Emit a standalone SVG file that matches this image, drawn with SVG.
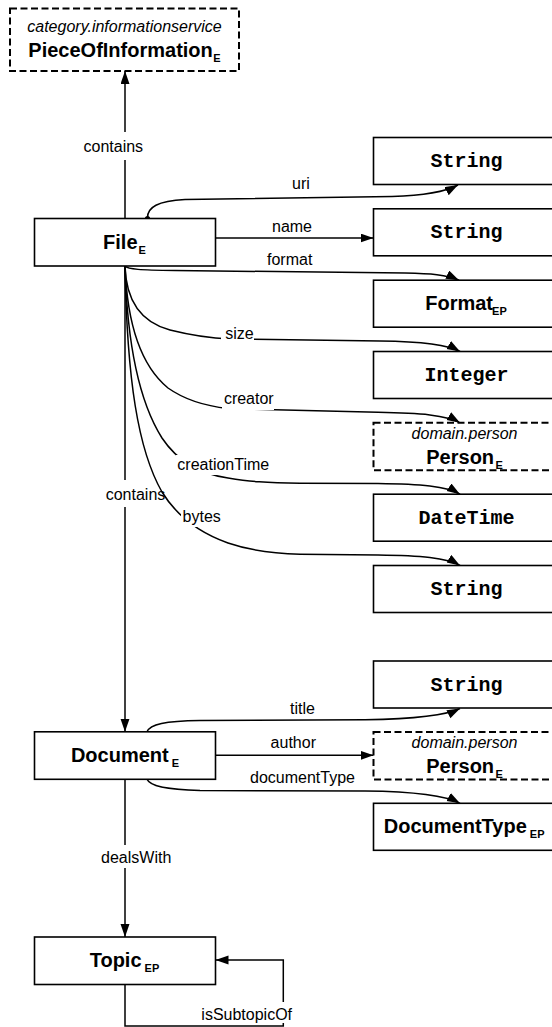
<svg xmlns="http://www.w3.org/2000/svg" width="552" height="1027" viewBox="0 0 552 1027">
<style>
.box{fill:#fff;stroke:#000;stroke-width:1.6}
.dash{fill:#fff;stroke:#000;stroke-width:2;stroke-dasharray:7 3.5}
.e{fill:none;stroke:#000;stroke-width:1.5}
.lb{font-family:"Liberation Sans",Arial,sans-serif;font-size:16px;fill:#000;text-anchor:middle}
.bg{fill:#fff;stroke:none}
.t{font-family:"Liberation Sans",Arial,sans-serif;font-size:20px;font-weight:bold;fill:#000;text-anchor:middle}
.sub{font-size:11px}
.it{font-family:"Liberation Sans",Arial,sans-serif;font-size:16px;font-style:italic;fill:#000;text-anchor:middle}
.m{font-family:"Liberation Mono","Courier New",monospace;font-size:20px;font-weight:bold;fill:#000;text-anchor:middle}
</style>
<defs>
<marker id="arr" markerWidth="14" markerHeight="10" refX="13" refY="4.5" orient="auto" markerUnits="userSpaceOnUse">
<path d="M0,0 L13,4.5 L0,9 z" fill="#000"/>
</marker>
</defs>
<rect width="552" height="1027" fill="#fff"/>
<g id="connectors">
<path class="e" d="M125,218.5 L125,71" marker-end="url(#arr)"/>
<path class="e" d="M147.5,218.5 C147,207 158,201 185,199.5 L392,196.5 C425,195.5 445,192 458,185" marker-end="url(#arr)"/>
<circle cx="147.5" cy="218.5" r="2.6" fill="#000"/>
<path class="e" d="M215.5,238 L373.5,238" marker-end="url(#arr)"/>
<path class="e" d="M125,266 C128,269.5 140,270 175,270.5 L405,273 C430,273.5 447,274.5 459,280.2" marker-end="url(#arr)"/>
<path class="e" d="M125,266 C126,300 140,322 170,330 C190,335 205,338 230,339 L380,341 C420,341.5 447,344 460,351.5" marker-end="url(#arr)"/>
<path class="e" d="M125,266 C127,320 140,365 168,388 C185,400 205,406 228,408.5 L378,412.3 C420,413 447,415 460,422.8" marker-end="url(#arr)"/>
<path class="e" d="M125,266 C127,340 138,400 162,438 C178,462 200,474 228,478 C250,481.5 265,483 300,483.2 L378,483.5 C420,484 447,486 460,494.2" marker-end="url(#arr)"/>
<path class="e" d="M125,266 C127,380 138,450 162,492 C178,518 200,533 228,543 C250,550.5 270,553.5 300,554.2 L378,555 C420,555.5 447,557.5 460,565.5" marker-end="url(#arr)"/>
<path class="e" d="M125,266 L125,731.8" marker-end="url(#arr)"/>
<path class="e" d="M147,731.8 C150,724 165,721 200,720.5 L365,719.8 C410,719 445,716 460,708.5" marker-end="url(#arr)"/>
<path class="e" d="M215.5,755.3 L373.5,755.3" marker-end="url(#arr)"/>
<path class="e" d="M147,779.3 C150,786 165,789.5 200,790.5 L365,791 C410,791.5 445,795 460,803.3" marker-end="url(#arr)"/>
<path class="e" d="M125,779.3 L125,937" marker-end="url(#arr)"/>
<path class="e" d="M125,984.5 L125,1026 L283.3,1026 L283.3,960 L215.5,960" marker-end="url(#arr)"/>
<rect class="bg" x="82" y="132" width="63" height="28"/>
<text class="lb" x="113.3" y="151.5">contains</text>
<text class="lb" x="301" y="189.3">uri</text>
<text class="lb" x="292" y="231.7">name</text>
<text class="lb" x="289.7" y="265">format</text>
<rect class="bg" x="221" y="326" width="33" height="17"/>
<text class="lb" x="239.5" y="339">size</text>
<rect class="bg" x="222" y="390" width="52" height="20"/>
<text class="lb" x="248.8" y="404">creator</text>
<rect class="bg" x="176" y="455" width="94" height="20"/>
<text class="lb" x="223.3" y="470">creationTime</text>
<rect class="bg" x="112" y="480" width="26" height="27"/>
<text class="lb" x="135.5" y="500">contains</text>
<rect class="bg" x="181" y="508" width="41" height="19"/>
<text class="lb" x="201.7" y="522">bytes</text>
<text class="lb" x="302.5" y="714">title</text>
<text class="lb" x="293.3" y="748.3">author</text>
<text class="lb" x="302.5" y="783">documentType</text>
<rect class="bg" x="112" y="845" width="26" height="23"/>
<text class="lb" x="136.2" y="863.3">dealsWith</text>
<rect class="bg" x="200" y="1002" width="93" height="21"/>
<text class="lb" x="246.7" y="1020">isSubtopicOf</text>
</g>
<g id="PieceOfInformation">
<rect class="dash" x="10" y="8.5" width="229" height="62.5"/>
<text class="it" x="124.5" y="31.5">category.informationservice</text>
<text class="t" x="124.5" y="56.5">PieceOfInformation<tspan class="sub" dx="0.5" dy="5">E</tspan></text>
</g>
<g id="File">
<rect class="box" x="34.5" y="218.5" width="181" height="47.5"/>
<text class="t" x="124.5" y="248.8">File<tspan class="sub" dx="1" dy="5">E</tspan></text>
</g>
<g id="Document">
<rect class="box" x="34.5" y="731.8" width="181" height="47.5"/>
<text class="t" x="125" y="762">Document<tspan class="sub" dy="5"> E</tspan></text>
</g>
<g id="Topic">
<rect class="box" x="34.5" y="937" width="181" height="47.5"/>
<text class="t" x="124.5" y="967.3">Topic<tspan class="sub" dy="5"> EP</tspan></text>
</g>
<g id="String_uri">
<rect class="box" x="373.5" y="137.5" width="190" height="47"/>
<text class="m" x="466.5" y="167">String</text>
</g>
<g id="String_name">
<rect class="box" x="373.5" y="208.8" width="190" height="47"/>
<text class="m" x="466.5" y="238.3">String</text>
</g>
<g id="Format">
<rect class="box" x="373.5" y="280.2" width="190" height="47"/>
<text class="t" x="466" y="310.2">Format<tspan class="sub" dx="-1" dy="5">EP</tspan></text>
</g>
<g id="Integer">
<rect class="box" x="373.5" y="351.5" width="190" height="47"/>
<text class="m" x="466.5" y="381">Integer</text>
</g>
<g id="Person_creator">
<rect class="dash" x="373.5" y="422.8" width="190" height="47.5"/>
<text class="it" x="464.5" y="438.8">domain.person</text>
<text class="t" x="464.6" y="464.3">Person<tspan class="sub" dx="1.5" dy="5">E</tspan></text>
</g>
<g id="DateTime">
<rect class="box" x="373.5" y="494.2" width="190" height="47"/>
<text class="m" x="466.5" y="523.7">DateTime</text>
</g>
<g id="String_bytes">
<rect class="box" x="373.5" y="565.5" width="190" height="47"/>
<text class="m" x="466.5" y="595">String</text>
</g>
<g id="String_title">
<rect class="box" x="373.5" y="661" width="190" height="47"/>
<text class="m" x="466.5" y="690.5">String</text>
</g>
<g id="Person_author">
<rect class="dash" x="373.5" y="732" width="190" height="47.5"/>
<text class="it" x="464.5" y="748">domain.person</text>
<text class="t" x="464.6" y="772.8">Person<tspan class="sub" dx="1.5" dy="5">E</tspan></text>
</g>
<g id="DocumentType">
<rect class="box" x="373.5" y="803.3" width="190" height="47"/>
<text class="t" x="464.2" y="833.3">DocumentType<tspan class="sub" dy="5"> EP</tspan></text>
</g>
</svg>
